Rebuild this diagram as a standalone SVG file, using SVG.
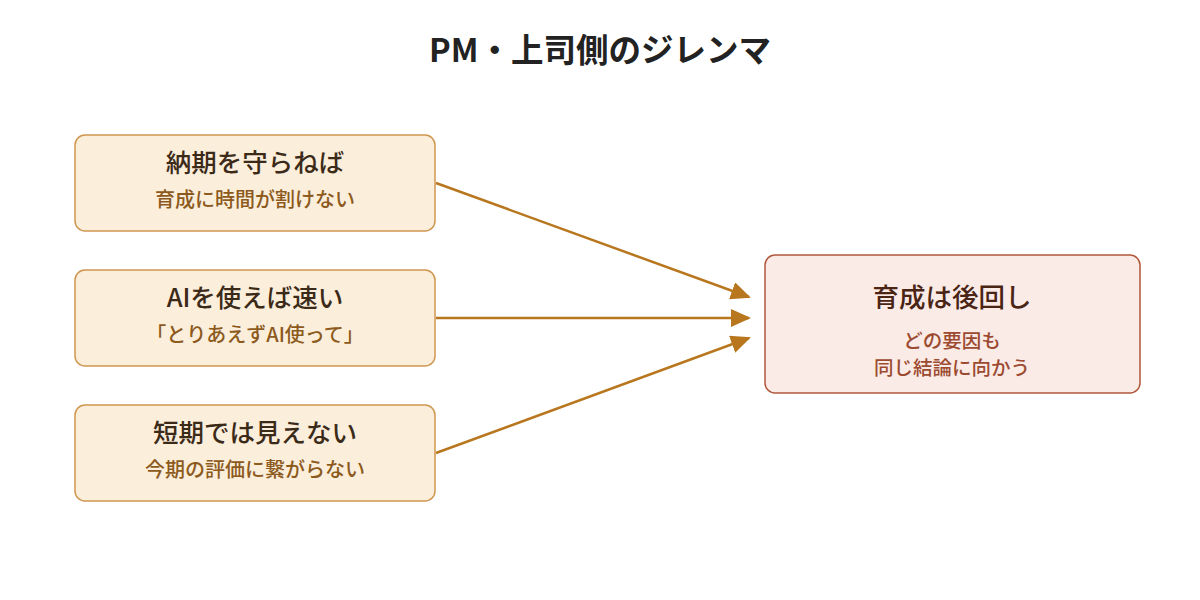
<svg xmlns="http://www.w3.org/2000/svg" width="1200" height="600" viewBox="0 0 1200 600">
<style>
text{font-family:"Noto Sans CJK JP","Noto Sans",sans-serif;text-anchor:middle}
.title{font-size:32.5px;font-weight:600;fill:#222}
.lbox{fill:#fbeedb;stroke:#cf9650;stroke-width:1.5}
.rbox{fill:#faebe6;stroke:#b0583c;stroke-width:1.5}
.lt{font-size:25.5px;font-weight:500;fill:#3b2a18}
.ls{font-size:20px;font-weight:500;fill:#8c5a1c}
.rt{font-size:26.5px;font-weight:500;fill:#4a2414}
.rs{font-size:19.5px;font-weight:500;fill:#9c4a30}
.conn{stroke:#b8771e;stroke-width:2.5;fill:none}
</style>
<defs>
<marker id="ah" viewBox="0 0 20 18" refX="18" refY="9" markerWidth="20" markerHeight="18" markerUnits="userSpaceOnUse" orient="auto"><path d="M0,0 L20,9 L0,18 z" fill="#b8771e"/></marker>
</defs>
<rect width="1200" height="600" fill="#fff"/>
<text class="title" x="600" y="62">PM・上司側のジレンマ</text>
<g id="connectors">
<line class="conn" x1="436" y1="183" x2="749" y2="297" marker-end="url(#ah)"/>
<line class="conn" x1="436" y1="318" x2="749" y2="318" marker-end="url(#ah)"/>
<line class="conn" x1="436" y1="453" x2="749" y2="338" marker-end="url(#ah)"/>
</g>
<g id="n1">
<rect class="lbox" x="75" y="135" width="360" height="96" rx="10"/>
<text class="lt" x="255" y="172">納期を守らねば</text>
<text class="ls" x="255" y="206.5">育成に時間が割けない</text>
</g>
<g id="n2">
<rect class="lbox" x="75" y="270" width="360" height="96" rx="10"/>
<text class="lt" x="255" y="307">AIを使えば速い</text>
<text class="ls" x="255" y="341.5">「とりあえずAI使って」</text>
</g>
<g id="n3">
<rect class="lbox" x="75" y="405" width="360" height="96" rx="10"/>
<text class="lt" x="255" y="442">短期では見えない</text>
<text class="ls" x="255" y="476.5">今期の評価に繋がらない</text>
</g>
<g id="n4">
<rect class="rbox" x="765" y="255" width="375" height="138" rx="10"/>
<text class="rt" x="952" y="307">育成は後回し</text>
<text class="rs" x="952" y="348">どの要因も</text>
<text class="rs" x="952" y="374.5">同じ結論に向かう</text>
</g>
</svg>
